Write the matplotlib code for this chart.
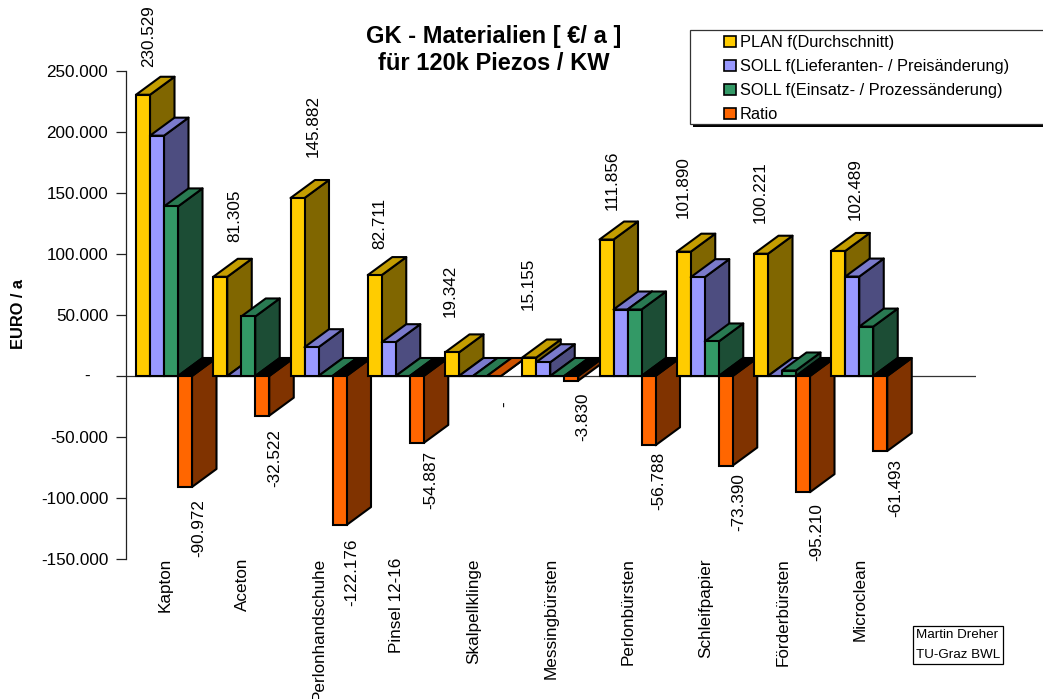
import matplotlib
matplotlib.use("Agg")
import matplotlib.pyplot as plt
from matplotlib.patches import Patch, Rectangle, Polygon

plt.rcParams['font.family'] = ['Liberation Sans', 'DejaVu Sans']

W, H = 1043, 699

categories = ['Kapton', 'Aceton', 'Perlonhandschuhe', 'Pinsel 12-16', 'Skalpellklinge',
              'Messingbürsten', 'Perlonbürsten', 'Schleifpapier', 'Förderbürsten', 'Microclean']
plan = [230529, 81305, 145882, 82711, 19342, 15155, 111856, 101890, 100221, 102489]
soll_preis = [197000, 0, 23600, 27700, 0, 11300, 54500, 81000, 0, 81500]
soll_einsatz = [139000, 48800, 0, 0, 0, 0, 54500, 28300, 4500, 40500]
ratio = [-90972, -32522, -122176, -54887, 0, -3830, -56788, -73390, -95210, -61493]
series = [plan, soll_preis, soll_einsatz, ratio]
series_names = ['PLAN f(Durchschnitt)', 'SOLL f(Lieferanten- / Preisänderung)',
                'SOLL f(Einsatz- / Prozessänderung)', 'Ratio']
front_cols = ['#FFCC00', '#9999FF', '#339966', '#FF6600']
top_cols = ['#C49D00', '#7A7ACC', '#297A52', '#CC5200']
side_cols = ['#806600', '#4D4D80', '#1C4D35', '#803300']
yticks = [250000, 200000, 150000, 100000, 50000, 0, -50000, -100000, -150000]
ytick_labels = ['250.000', '200.000', '150.000', '100.000', '50.000', '', '-50.000', '-100.000', '-150.000']

plan_labels = ['230.529', '81.305', '145.882', '82.711', '19.342', '15.155', '111.856', '101.890', '100.221', '102.489']
ratio_labels = ['-90.972', '-32.522', '-122.176', '-54.887', '-', '-3.830', '-56.788', '-73.390', '-95.210', '-61.493']

# label offsets in pixels, the excel labels sit all over the place
plan_off = [(6, 28), (15, 35), (16, 41), (5, 26), (-2, 35), (-1, 48), (6, 30), (-1, 34), (-1, 31), (17, 31)]
ratio_off = [(14, -12), (13, -13), (12, -13), (14, -8), (11, -25), (11, -12), (10, -6), (13, -8), (14, -11), (15, -8)]

fig = plt.figure(figsize=(W / 100, H / 100), dpi=100)
ax = fig.add_axes([126 / W, 1 - 559 / H, 850 / W, (559 - 71) / H])
ax.set_xlim(0, 11)
ax.set_ylim(-150000, 250000)
ax.patch.set_alpha(0)

px_x = 11 / 850  # data units per pixel
px_y = 400000 / 488
bar_w = 14 * px_x
depth_x = 24.5 * px_x
depth_y = 18 * px_y
start = 10 * px_x
step = 77.25 * px_x
LW = 1.5


def draw_bar(x, v, col_f, col_t, col_s):
    hi = max(v, 0)
    lo = min(v, 0)
    z = len(ax.patches) + 2
    ec = dict(edgecolor='black', linewidth=LW, joinstyle='round', zorder=z)
    # side, top, then front
    ax.add_patch(Polygon([(x + bar_w, lo), (x + bar_w + depth_x, lo + depth_y),
                          (x + bar_w + depth_x, hi + depth_y), (x + bar_w, hi)], facecolor=col_s, **ec))
    top = 'black' if v < 0 else col_t
    ax.add_patch(Polygon([(x, hi), (x + bar_w, hi), (x + bar_w + depth_x, hi + depth_y),
                          (x + depth_x, hi + depth_y)], facecolor=top, **ec))
    if v != 0:
        ax.bar(x, hi - lo, bottom=lo, width=bar_w, align='edge', color=col_f, edgecolor='black',
               linewidth=LW, zorder=z)


for i in range(len(categories)):
    x0 = start + i * step
    for j in range(4):
        draw_bar(x0 + j * bar_w, series[j][i], front_cols[j], top_cols[j], side_cols[j])

    ax.annotate(plan_labels[i], (x0 + bar_w / 2, plan[i]), xytext=plan_off[i], textcoords='offset pixels',
                rotation=90, ha='center', va='bottom', fontsize=12.3, annotation_clip=False, zorder=500)
    ax.annotate(ratio_labels[i], (x0 + 3.5 * bar_w, ratio[i]), xytext=ratio_off[i], textcoords='offset pixels',
                rotation=90, ha='center', va='top', fontsize=12.3, annotation_clip=False, zorder=500)

for s in ['top', 'right', 'bottom']:
    ax.spines[s].set_visible(False)
ax.spines['left'].set_color('#222222')
ax.spines['left'].set_linewidth(0.9)
ax.axhline(0, color='#333333', lw=0.9, zorder=1)
ax.set_yticks(yticks)
ax.set_yticklabels(ytick_labels, fontsize=12.3)
ax.tick_params(axis='y', length=7.2, width=0.9, color='#222222', pad=5.5)
ax.set_xticks([])
# the zero label is a dash set well in from the others
ax.annotate('-', (0, 0), xycoords=ax.get_yaxis_transform(), xytext=(-36, 0), textcoords='offset pixels',
            ha='right', va='center', fontsize=12.3, annotation_clip=False)
ax.set_ylabel('EURO / a', fontsize=11.8, fontweight='bold')
ax.yaxis.set_label_coords((26 - 126) / 850, (559 - 314) / 488)

# category names sit under the axis, rotated
for i, name in enumerate(categories):
    ax.annotate(name, (start + i * step + 2 * bar_w, -150000), xytext=(1, 1), textcoords='offset pixels',
                rotation=90, ha='center', va='top', fontsize=12.3, annotation_clip=False)

fig.text(494 / W, 1 - 36 / H, 'GK - Materialien [ €/ a ]', fontsize=17, fontweight='bold', ha='center', va='center')
fig.text(494 / W, 1 - 64 / H, 'für 120k Piezos / KW', fontsize=17, fontweight='bold', ha='center', va='center')

# legend box runs off the right edge, black shadow below
fig.add_artist(Rectangle((693 / W, 1 - 127 / H), 360 / W, 50 / H, transform=fig.transFigure, fc='black', ec='none', zorder=5))
fig.add_artist(Rectangle((689.5 / W, 1 - 123.5 / H), 360 / W, 93.5 / H, transform=fig.transFigure, fc='white', ec='#333333', lw=0.9, zorder=6))
handles = [Patch(facecolor=c, edgecolor='black', linewidth=1.2) for c in front_cols]
leg = fig.legend(handles, series_names, loc='upper left', bbox_to_anchor=(717 / W, 1 - 28 / H), frameon=False,
                 fontsize=11.8, handlelength=0.68, handleheight=0.68, handletextpad=0.25, labelspacing=0.55,
                 borderpad=0.45, borderaxespad=0)
leg.set_zorder(7)

fig.add_artist(Rectangle((913 / W, 1 - 664 / H), 90 / W, 38 / H, transform=fig.transFigure, fc='white', ec='black', lw=0.9))
fig.text(916 / W, 1 - 634.5 / H, 'Martin Dreher', fontsize=9.6, ha='left', va='center')
fig.text(916 / W, 1 - 654.5 / H, 'TU-Graz BWL', fontsize=9.6, ha='left', va='center')

fig.savefig('out.png', dpi=100)
